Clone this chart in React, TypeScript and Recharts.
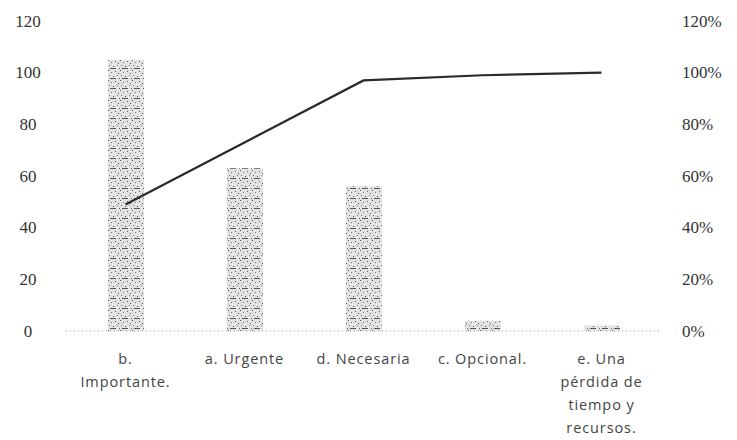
import React from "react";
import { ComposedChart, Bar, Line, XAxis, YAxis } from "recharts";

const categories = [
  "b.\nImportante.",
  "a. Urgente",
  "d. Necesaria",
  "c. Opcional.",
  "e. Una\npérdida de\ntiempo y\nrecursos.",
];
const counts = [105, 63, 56, 4, 2];
const cumulative = [0.49, 0.73, 0.97, 0.99, 1.0];
const leftTicks = [0, 20, 40, 60, 80, 100, 120];
const rightTicks = [0, 0.2, 0.4, 0.6, 0.8, 1.0, 1.2];

const data = categories.map((c, i) => ({ name: c, count: counts[i], cum: cumulative[i] }));

const LeftTick = (props: any) => {
  const { y, payload } = props;
  return (
    <text x={28} y={y} textAnchor="middle" dominantBaseline="central"
      fontFamily="'Liberation Serif', serif" fontSize={17} fill="#333">
      {payload.value}
    </text>
  );
};

const RightTick = (props: any) => {
  const { y, payload } = props;
  return (
    <text x={682} y={y} textAnchor="start" dominantBaseline="central"
      fontFamily="'Liberation Serif', serif" fontSize={17} fill="#333">
      {Math.round(payload.value * 100) + "%"}
    </text>
  );
};

const CatTick = (props: any) => {
  const { x, y, payload } = props;
  const lines = String(payload.value).split("\n");
  return (
    <g>
      {lines.map((l, i) => (
        <text key={i} x={x} y={y + 19 + i * 23.3} textAnchor="middle" dominantBaseline="central"
          fontFamily="'Open Sans', sans-serif" fontSize={14.5} letterSpacing={0.9} fill="#444">
          {l}
        </text>
      ))}
    </g>
  );
};

export default function App() {
  return (
    <div style={{ position: "absolute", left: 0, top: 0, width: 737, height: 440, background: "#fff" }}>
      <svg width={0} height={0} style={{ position: "absolute" }}>
        <defs>
          <pattern id="stip" width="12" height="10" patternUnits="userSpaceOnUse">
            <rect width="12" height="10" fill="#e2e2e2" />
            <rect x="0" y="0" width="1" height="1" fill="#555" />
            <rect x="3" y="2" width="1" height="1" fill="#777" />
            <rect x="7" y="1" width="1" height="1" fill="#666" />
            <rect x="10" y="3" width="1" height="1" fill="#555" />
            <rect x="1" y="5" width="1" height="1" fill="#777" />
            <rect x="5" y="6" width="1" height="1" fill="#555" />
            <rect x="9" y="5" width="1" height="1" fill="#888" />
            <rect x="2" y="8" width="6" height="1" fill="#555" />
            <rect x="11" y="8" width="1" height="1" fill="#666" />
            <rect x="4" y="4" width="1" height="1" fill="#fafafa" />
            <rect x="8" y="7" width="1" height="1" fill="#fafafa" />
          </pattern>
        </defs>
      </svg>
      <ComposedChart width={737} height={440} data={data}
        margin={{ top: 21, right: 0, bottom: 0, left: 0 }}>
        <XAxis dataKey="name" height={109} interval={0} tickLine={false}
          axisLine={{ stroke: "#999", strokeDasharray: "1 3" }} tick={<CatTick />} />
        <YAxis yAxisId="l" width={66} domain={[0, 120]} ticks={leftTicks}
          axisLine={false} tickLine={false} tick={<LeftTick />} />
        <YAxis yAxisId="r" orientation="right" width={76} domain={[0, 1.2]} ticks={rightTicks}
          axisLine={false} tickLine={false} tick={<RightTick />} />
        <Bar yAxisId="l" dataKey="count" barSize={36} fill="url(#stip)" isAnimationActive={false} />
        <Line yAxisId="r" dataKey="cum" stroke="#2a2a2a" strokeWidth={2.2} dot={false}
          type="linear" isAnimationActive={false} />
      </ComposedChart>
    </div>
  );
}
